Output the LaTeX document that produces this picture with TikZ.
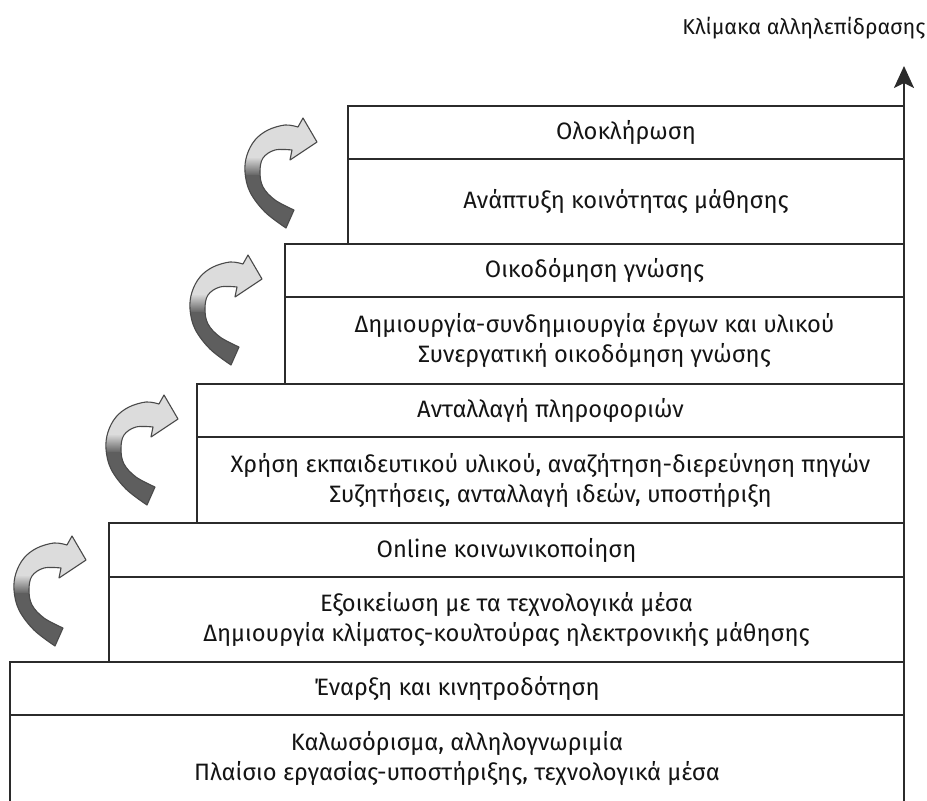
\documentclass[tikz,border=0pt]{standalone}
\usepackage{fontspec}
\setmainfont{Fira Sans}
\usetikzlibrary{arrows.meta}
\definecolor{inkline}{HTML}{2B2B2B}
\definecolor{arrowdark}{HTML}{5E5E5E}
\definecolor{arrowlight}{HTML}{DCDCDC}
\definecolor{arrowedge}{HTML}{4A4A4A}
\begin{document}
\begin{tikzpicture}[x=1pt, y=-1pt,
  stepline/.style={draw=inkline, line width=2.5pt, line cap=rect},
  steptext/.style={font=\fontsize{23.7}{30}\selectfont, align=center,
    text=black!92, inner sep=0pt},
  axislabel/.style={font=\fontsize{21.5}{24}\selectfont, text=black!92, inner sep=0pt},
  turnarrow/.pic={
    \draw[draw=arrowedge, line width=1.1pt, line join=round,
      path picture={
        \fill[arrowlight] (-90,-40) rectangle (10,16);
        \shade[top color=arrowlight, bottom color=arrowdark] (-90,15) rectangle (10,34);
        \fill[arrowdark] (-90,33) rectangle (10,100);
      }]
      plot[smooth, tension=0.6] coordinates {(-31,86) (-52,70) (-67,50) (-72,30)
        (-70,13) (-62,-2) (-49,-12) (-32,-17) (-19,-15)}
      -- (-14,-24) -- (0,0) -- (-27,18) -- (-25,8)
      -- plot[smooth, tension=0.6] coordinates {(-25,8) (-42,8) (-54,16) (-57,30)
        (-54,45) (-42,58) (-23,68)}
      -- cycle;
  }]
\useasboundingbox (0,0) rectangle (927,801);

% steps: left edge and top edge, then the divider between title and content
\draw[stepline] (348,244) |- (904,106);
\draw[stepline] (348,159) -- (904,159);
\draw[stepline] (285,384) |- (904,244);
\draw[stepline] (285,297) -- (904,297);
\draw[stepline] (197,523) |- (904,384);
\draw[stepline] (197,437) -- (904,437);
\draw[stepline] (109,662) |- (904,523);
\draw[stepline] (109,577) -- (904,577);
\draw[stepline] (10,805) |- (904,662);
\draw[stepline] (10,715) -- (904,715);

% vertical scale
\coordinate (axisfoot) at (904,805);
\coordinate (axishead) at (904,66);
\draw[draw=inkline, line width=2.5pt,
  -{Stealth[length=22pt, width=20pt, inset=5pt]}] (axisfoot) -- (axishead);
\node[axislabel] (scale) at (804,28) {Κλίμακα αλληλεπίδρασης};

% texts of the steps
\node[steptext] (t5) at (626,132.5) {Ολοκλήρωση};
\node[steptext] (c5) at (626,201.5) {Ανάπτυξη κοινότητας μάθησης};
\node[steptext] (t4) at (594.5,270.5) {Οικοδόμηση γνώσης};
\node[steptext] (c4) at (594.5,340.5) {Δημιουργία-συνδημιουργία έργων και υλικού\\Συνεργατική οικοδόμηση γνώσης};
\node[steptext] (t3) at (550.5,410.5) {Ανταλλαγή πληροφοριών};
\node[steptext] (c3) at (550.5,480) {Χρήση εκπαιδευτικού υλικού, αναζήτηση-διερεύνηση πηγών\\Συζητήσεις, ανταλλαγή ιδεών, υποστήριξη};
\node[steptext] (t2) at (506.5,550) {Online κοινωνικοποίηση};
\node[steptext] (c2) at (506.5,619.5) {Εξοικείωση με τα τεχνολογικά μέσα\\Δημιουργία κλίματος-κουλτούρας ηλεκτρονικής μάθησης};
\node[steptext] (t1) at (457,688.5) {Έναρξη και κινητροδότηση};
\node[steptext] (c1) at (457,758) {Καλωσόρισμα, αλληλογνωριμία\\Πλαίσιο εργασίας-υποστήριξης, τεχνολογικά μέσα};

% curved arrows climbing to the next step
\pic at (86,560) {turnarrow};
\pic at (178,419) {turnarrow};
\pic at (262,279) {turnarrow};
\pic at (317,142) {turnarrow};
\end{tikzpicture}
\end{document}
